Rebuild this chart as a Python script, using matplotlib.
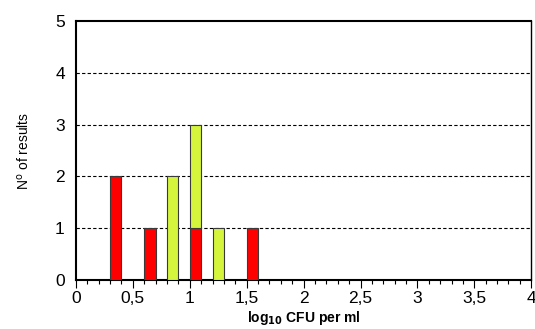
import numpy as np
import matplotlib.pyplot as plt
from matplotlib.ticker import MultipleLocator

plt.rcParams['font.family'] = ['Liberation Sans', 'DejaVu Sans']

# bin left edges (log10 CFU per ml), width 0.1
bins_red = [0.3, 0.6, 1.0, 1.5]
counts_red = [2, 1, 1, 1]
bins_green = [0.8, 1.0, 1.2]
counts_green = [2, 2, 1]
bin_width = 0.1
xticks = [0, 0.5, 1, 1.5, 2, 2.5, 3, 3.5, 4]
xtick_labels = ['0', '0,5', '1', '1,5', '2', '2,5', '3', '3,5', '4']

# base of green bars = red count in same bin (stacked)
red_lookup = dict(zip(bins_red, counts_red))
green_base = [red_lookup.get(b, 0) for b in bins_green]

fig = plt.figure(figsize=(5.35, 3.29), dpi=100)
ax = fig.add_axes([0.142, 0.149, 0.851, 0.787])

ax.bar(bins_red, counts_red, width=bin_width, align='edge', color='#ff0000',
       edgecolor='#3a3a3a', linewidth=0.8, zorder=3)
ax.bar(bins_green, counts_green, width=bin_width, align='edge', bottom=green_base,
       color='#d4f53c', edgecolor='#3a3a3a', linewidth=0.8, zorder=3)

ax.set_xlim(0, 4)
ax.set_ylim(0, 5)
ax.set_xticks(xticks)
ax.set_xticklabels(xtick_labels)
ax.xaxis.set_minor_locator(MultipleLocator(0.1))
ax.yaxis.set_major_locator(MultipleLocator(1))
ax.tick_params(axis='x', which='major', direction='out', length=6, width=0.8, labelsize=12.5, pad=2)
ax.tick_params(axis='x', which='minor', direction='out', length=3, width=0.8)
ax.tick_params(axis='y', length=0, labelsize=12.5, pad=8)

for y in [1, 2, 3, 4]:
    ax.axhline(y, color='black', linestyle=(0, (3, 2)), linewidth=0.8, zorder=1)

for s in ax.spines.values():
    s.set_linewidth(1.5)
ax.spines['right'].set_linewidth(1.0)

ax.set_ylabel('N$^{\\mathrm{o}}$ of results', fontsize=10, labelpad=17)
ax.set_xlabel('log$_{\\mathbf{10}}$ CFU per ml', fontsize=10, fontweight='bold', labelpad=2)

fig.savefig('out.png', dpi=100)
